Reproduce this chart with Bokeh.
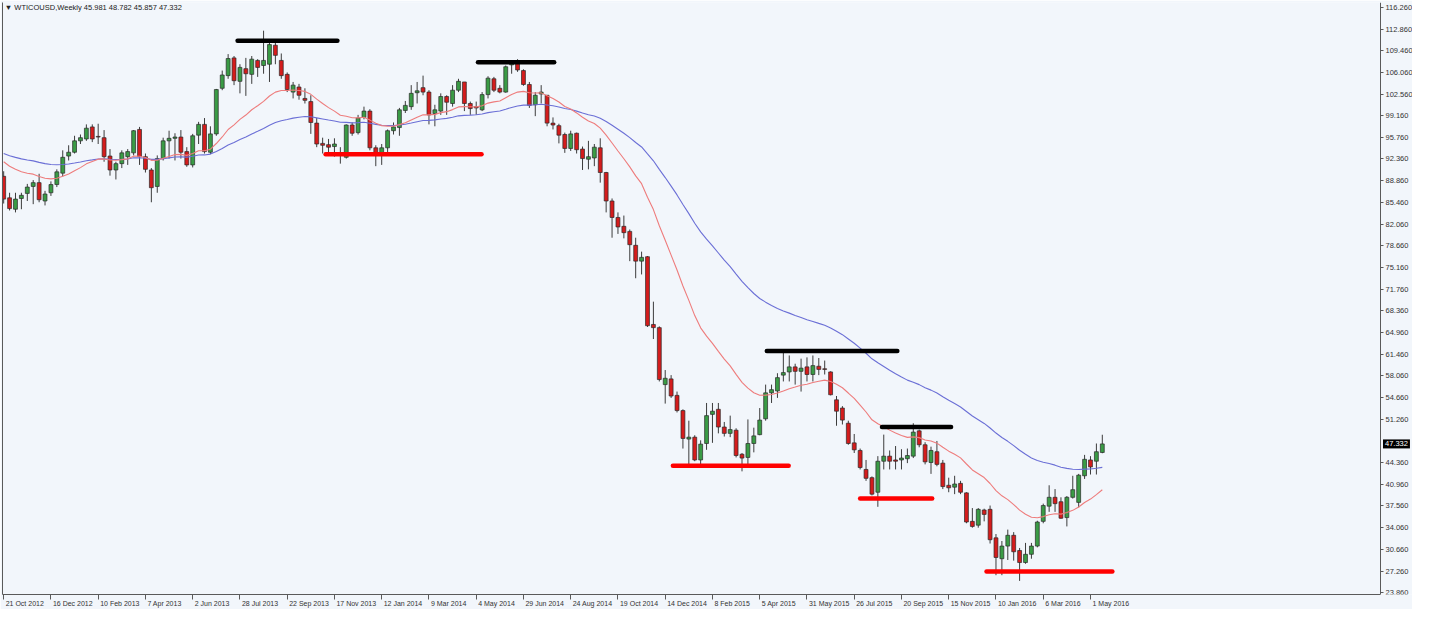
import numpy as np
from bokeh.plotting import figure
from bokeh.models import Range1d, FixedTicker, Label, ColumnDataSource, LinearAxis
from bokeh.embed import file_html
from bokeh.resources import INLINE

symbol = "WTICOUSD,Weekly"

opens = [89.6, 86.2, 84.4, 86.1, 86.9, 88.0, 88.6, 85.7, 87.0, 88.3,
         90.1, 92.8, 93.4, 95.2, 95.5, 97.4, 95.9, 95.7, 92.8, 90.6,
         91.6, 92.7, 93.3, 97.0, 92.7, 90.6, 88.0, 92.4, 95.2, 95.6,
         95.8, 93.5, 91.4, 96.1, 97.8, 93.4, 96.3, 103.5, 105.5, 108.3,
         104.6, 106.6, 105.7, 107.9, 107.1, 107.3, 110.3, 107.9, 105.7, 102.9,
         103.7, 101.9, 101.4, 98.0, 94.8, 94.6, 94.3, 93.3, 92.6, 97.7,
         96.5, 98.9, 99.9, 94.1, 93.2, 94.1, 96.8, 97.3, 100.0, 100.6,
         102.8, 103.6, 102.9, 99.5, 99.9, 102.2, 101.1, 103.2, 104.5, 101.1,
         100.6, 100.1, 102.5, 105.0, 103.5, 102.9, 107.2, 107.7, 106.3, 104.1,
         100.9, 102.6, 102.4, 98.0, 97.6, 96.2, 94.0, 96.4, 93.9, 92.3,
         92.5, 94.1, 90.2, 85.7, 83.1, 81.7, 80.9, 78.7, 76.2, 76.9,
         66.2, 65.7, 56.7, 57.6, 55.0, 52.6, 48.1, 48.4, 44.8, 47.4,
         52.0, 52.8, 50.0, 49.0, 49.5, 45.7, 45.2, 47.4, 48.8, 51.3,
         55.4, 55.7, 58.2, 58.7, 59.5, 58.8, 59.5, 58.3, 59.6, 59.2,
         58.7, 54.3, 53.0, 50.6, 47.5, 46.3, 43.3, 42.0, 39.7, 44.6,
         45.4, 44.8, 44.8, 45.0, 45.4, 49.4, 47.2, 44.4, 46.1, 44.3,
         40.8, 40.5, 41.1, 39.6, 35.1, 34.5, 36.9, 37.0, 32.5, 29.2,
         31.2, 32.9, 30.5, 28.6, 29.9, 31.2, 35.1, 37.5, 38.9, 38.2,
         35.7, 38.9, 38.1, 42.3, 44.8, 44.6, 45.981]
highs = [90.4, 87.0, 87.0, 87.0, 88.4, 89.0, 90.0, 87.3, 88.8, 90.7,
         93.7, 94.5, 96.0, 96.2, 97.8, 97.8, 97.9, 96.9, 93.9, 91.9,
         93.7, 93.9, 96.9, 97.4, 93.2, 90.9, 92.9, 95.7, 96.8, 96.4,
         96.9, 94.2, 96.3, 98.2, 98.8, 97.5, 103.4, 106.3, 108.9, 108.6,
         107.3, 108.3, 108.6, 108.1, 112.6, 110.7, 110.7, 109.0, 106.0, 104.5,
         104.2, 103.5, 102.4, 98.8, 95.7, 95.5, 95.6, 94.2, 97.8, 98.1,
         99.3, 100.6, 100.2, 94.5, 94.7, 97.0, 98.1, 100.4, 101.5, 104.0,
         104.5, 105.5, 103.2, 100.9, 102.7, 102.4, 104.0, 105.0, 104.5, 101.4,
         101.4, 102.9, 105.4, 105.3, 104.0, 107.1, 107.8, 108.1, 106.5, 104.5,
         102.9, 104.0, 102.4, 98.9, 97.9, 96.5, 96.8, 96.5, 94.3, 95.2,
         94.7, 95.6, 90.3, 86.1, 83.9, 83.4, 81.2, 79.9, 77.7, 77.0,
         69.8, 65.9, 59.0, 58.2, 55.6, 52.8, 51.0, 48.7, 47.9, 53.8,
         53.8, 53.8, 50.8, 51.8, 49.8, 45.9, 51.2, 49.9, 53.0, 56.7,
         56.7, 58.5, 61.7, 61.3, 60.0, 60.8, 61.0, 61.3, 60.9, 60.5,
         58.8, 54.9, 53.3, 51.0, 48.9, 46.6, 44.8, 42.2, 45.4, 48.8,
         46.3, 47.0, 46.5, 46.6, 50.6, 49.6, 47.6, 46.9, 47.8, 44.8,
         42.0, 42.3, 41.5, 39.7, 37.2, 37.2, 37.1, 37.6, 33.1, 32.0,
         33.8, 33.4, 30.9, 31.7, 31.7, 35.2, 37.9, 40.8, 40.2, 38.9,
         39.1, 42.3, 42.6, 45.6, 45.4, 47.4, 48.782]
lows = [85.3, 84.2, 83.9, 84.4, 85.7, 85.2, 85.5, 85.0, 86.5, 87.9,
        89.6, 92.1, 93.2, 94.7, 95.2, 95.0, 94.7, 91.9, 89.7, 89.1,
        90.9, 91.4, 92.9, 91.4, 90.2, 85.5, 87.0, 92.1, 92.4, 92.1,
        92.4, 91.1, 91.0, 94.7, 93.2, 93.1, 96.0, 103.2, 105.0, 104.0,
        102.7, 102.3, 104.2, 105.3, 105.8, 104.5, 107.3, 105.0, 102.9, 101.9,
        101.7, 101.1, 96.3, 94.2, 93.2, 93.2, 92.7, 91.6, 92.4, 96.0,
        96.2, 98.6, 93.7, 91.2, 91.4, 93.4, 96.2, 96.0, 99.6, 100.1,
        101.1, 102.4, 97.8, 97.5, 99.3, 99.3, 100.6, 102.9, 99.9, 99.3,
        99.3, 99.9, 101.9, 102.9, 102.7, 102.8, 105.8, 106.1, 103.9, 100.4,
        99.1, 101.1, 97.5, 97.0, 94.8, 93.3, 93.6, 93.2, 90.6, 90.7,
        91.2, 88.6, 83.9, 79.9, 80.5, 79.8, 76.2, 73.5, 74.1, 65.8,
        63.9, 57.2, 53.7, 54.6, 52.3, 46.6, 44.1, 44.6, 43.7, 46.4,
        47.5, 49.0, 48.5, 48.4, 45.2, 43.0, 43.7, 46.0, 48.7, 51.0,
        53.8, 54.6, 57.2, 57.2, 56.7, 55.6, 57.2, 57.2, 58.2, 58.3,
        55.0, 50.2, 50.4, 47.2, 45.9, 43.3, 41.5, 39.2, 37.4, 43.3,
        43.3, 43.3, 43.3, 44.3, 45.1, 46.8, 44.1, 42.6, 43.8, 40.2,
        39.7, 39.4, 39.4, 34.8, 34.1, 34.1, 35.1, 31.6, 26.6, 26.6,
        29.0, 28.9, 25.7, 28.4, 29.2, 31.0, 34.8, 36.6, 36.6, 35.5,
        34.3, 38.7, 37.3, 41.8, 42.5, 42.5, 45.857]
closes = [86.0, 84.5, 86.0, 86.6, 87.9, 88.6, 85.9, 86.8, 88.3, 90.3,
          92.6, 93.4, 95.2, 95.7, 97.2, 95.5, 95.8, 92.7, 90.6, 91.6,
          93.3, 93.5, 96.8, 92.7, 90.7, 87.8, 92.4, 95.2, 95.6, 95.8,
          93.4, 91.4, 96.0, 97.8, 93.5, 96.3, 103.3, 105.6, 108.2, 104.7,
          106.8, 105.8, 108.1, 106.8, 107.9, 110.4, 108.7, 105.5, 103.3, 104.0,
          102.4, 101.6, 98.1, 94.7, 94.5, 94.2, 94.7, 93.0, 97.7, 96.4,
          98.8, 99.9, 94.1, 93.2, 94.1, 96.8, 97.4, 100.1, 100.8, 102.7,
          103.1, 102.9, 99.3, 100.1, 102.2, 101.3, 103.2, 104.6, 101.1, 100.3,
          100.4, 102.5, 105.1, 103.2, 102.9, 106.9, 107.4, 106.4, 104.1, 100.8,
          102.4, 102.9, 98.0, 97.7, 96.1, 94.0, 96.3, 93.8, 92.4, 92.7,
          94.2, 90.2, 85.7, 83.1, 81.6, 80.7, 78.8, 76.2, 76.8, 66.0,
          65.7, 57.5, 57.7, 54.9, 52.6, 48.2, 48.4, 44.8, 47.3, 51.8,
          52.5, 50.0, 49.0, 49.6, 45.5, 45.1, 47.4, 48.6, 51.1, 55.4,
          55.9, 57.8, 58.6, 59.5, 58.8, 59.3, 58.3, 59.7, 59.1, 59.1,
          55.1, 52.5, 51.1, 47.4, 46.4, 43.6, 41.9, 39.4, 44.6, 45.4,
          44.6, 44.6, 45.1, 45.5, 49.2, 47.2, 44.5, 46.3, 44.1, 40.6,
          40.4, 41.0, 39.7, 35.0, 34.3, 37.0, 36.2, 32.2, 29.4, 31.2,
          32.9, 30.3, 28.6, 29.9, 31.2, 35.0, 37.6, 38.9, 37.9, 35.6,
          38.9, 40.1, 42.4, 44.9, 43.7, 46.1, 47.332]

# moving averages (red: 20-period EMA, blue: 50-period EMA), value at first visible bar
ema_fast_period = 20
ema_fast_start = 91.9
ema_slow_period = 50
ema_slow_start = 93.2

x_tick_labels = ["21 Oct 2012", "16 Dec 2012", "10 Feb 2013", "7 Apr 2013", "2 Jun 2013",
                 "28 Jul 2013", "22 Sep 2013", "17 Nov 2013", "12 Jan 2014", "9 Mar 2014",
                 "4 May 2014", "29 Jun 2014", "24 Aug 2014", "19 Oct 2014", "14 Dec 2014",
                 "8 Feb 2015", "5 Apr 2015", "31 May 2015", "26 Jul 2015", "20 Sep 2015",
                 "15 Nov 2015", "10 Jan 2016", "6 Mar 2016", "1 May 2016"]
bars_per_label = 8

y_tick_labels = ["23.860", "27.260", "30.660", "34.060", "37.560", "40.960", "44.360",
                 "51.260", "54.660", "58.060", "61.460", "64.960", "68.360", "71.760",
                 "75.160", "78.660", "82.060", "85.460", "88.860", "92.360", "95.760",
                 "99.160", "102.560", "106.060", "109.460", "112.860", "116.260"]

# hand-drawn horizontal levels (price, first bar, last bar, kind)
level_price = [111.0, 93.1, 107.6, 43.9, 62.0, 38.7, 50.0, 27.2]
level_from = [39.6, 54.5, 80.3, 113.3, 129.2, 145.0, 148.7, 166.4]
level_to = [56.5, 80.9, 93.2, 132.9, 151.3, 157.2, 160.4, 187.7]
level_kind = ["resistance", "support", "resistance", "support",
              "resistance", "support", "resistance", "support"]

# ---------------------------------------------------------------
BG = "#f2f6fb"
UP = "#3a9b45"
DOWN = "#d41c1c"
WICK = "#3c3c3c"
AXC = "#5a5a5a"
FONT = "Liberation Sans"
XFS = 7.0
X0, X1 = -0.2, 233.1          # chart area in bars (X1 = price scale line)
Y0, Y1 = 23.55, 117.05
FW, FH = 1410, 592            # whole frame, price scale included
AXPX = 1378                   # pixel position of the price scale line in the frame
px_per_bar = AXPX / (X1 - X0)
XEND = X1 + (FW - AXPX) / px_per_bar

n = len(closes)
idx = np.arange(n)
o = np.array(opens); h = np.array(highs); l = np.array(lows); c = np.array(closes)


def ema(values, period, start):
    a = 2.0 / (period + 1)
    out = [start]
    for v in values[1:]:
        out.append(out[-1] + a * (v - out[-1]))
    return np.array(out)


fast = ema(c, ema_fast_period, ema_fast_start)
slow = ema(c, ema_slow_period, ema_slow_start)

p = figure(frame_width=FW, frame_height=FH,
           x_range=Range1d(X0, XEND), y_range=Range1d(Y0, Y1),
           y_axis_location=None, output_backend="svg", toolbar_location=None,
           min_border_left=2, min_border_top=2, min_border_right=0, min_border_bottom=0)
p.background_fill_color = BG
p.border_fill_color = BG
p.outline_line_color = None
p.grid.visible = False

# wicks
p.segment(x0=idx, y0=h, x1=idx, y1=l, line_color=WICK, line_width=1)

up = c >= o
src_up = ColumnDataSource(dict(x=idx[up], top=c[up], bottom=o[up]))
src_dn = ColumnDataSource(dict(x=idx[~up], top=o[~up], bottom=c[~up]))
p.vbar(x="x", top="top", bottom="bottom", width=0.66, source=src_up,
       fill_color=UP, line_color="#2a2a2a", line_width=0.7)
p.vbar(x="x", top="top", bottom="bottom", width=0.66, source=src_dn,
       fill_color=DOWN, line_color="#2a2a2a", line_width=0.7)

p.line(idx, slow, line_color="#6b6fd6", line_width=1.1)
p.line(idx, fast, line_color="#ee7c7c", line_width=1.1)

kind_color = {"resistance": "#000000", "support": "#ff0000"}
p.segment(x0=level_from, y0=level_price, x1=level_to, y1=level_price,
          line_color=[kind_color[k] for k in level_kind], line_width=4.5, line_cap="round")

# left border of the chart window
lb = LinearAxis(ticker=FixedTicker(ticks=[]), axis_line_color=AXC,
                major_tick_line_color=None, minor_tick_line_color=None,
                major_label_text_font_size="0px", major_label_standoff=0)
p.add_layout(lb, "left")

# x axis: tick marks at the bars, labels start at the tick (MT4 style)
xa = p.xaxis[0]
xticks = [i * bars_per_label for i in range(len(x_tick_labels))]
xa.ticker = FixedTicker(ticks=xticks)
xa.bounds = (X0, X1)
xa.major_label_overrides = {t: "" for t in xticks}
xa.major_label_text_font_size = "0px"
xa.major_label_standoff = 0
xa.major_tick_out = 5
xa.major_tick_in = 0
xa.minor_tick_out = 0
xa.minor_tick_in = 0
xa.axis_line_color = AXC
xa.major_tick_line_color = AXC

CW = {c_: 0.556 for c_ in "0123456789"}
CW.update({" ": 0.278, "O": 0.778, "c": 0.5, "t": 0.278, "D": 0.722, "e": 0.556,
           "F": 0.611, "b": 0.556, "A": 0.667, "p": 0.556, "r": 0.333, "J": 0.5,
           "u": 0.556, "n": 0.556, "l": 0.222, "S": 0.667, "N": 0.722, "o": 0.556,
           "v": 0.5, "M": 0.833, "a": 0.556, "y": 0.5, "g": 0.556})
label_pos = [t + (sum(CW.get(ch, 0.55) for ch in s) * XFS / 2 + 2) / px_per_bar
             for t, s in zip(xticks, x_tick_labels)]
xl = LinearAxis(ticker=FixedTicker(ticks=label_pos),
                major_label_overrides={t: s for t, s in zip(label_pos, x_tick_labels)},
                major_label_text_font=FONT, major_label_text_font_size=f"{XFS}px",
                major_label_text_color="#333333", major_label_standoff=0,
                axis_line_color=None, major_tick_line_color=None, minor_tick_line_color=None,
                major_tick_out=0, major_tick_in=0)
p.add_layout(xl, "below")

# price scale, drawn at the right edge of the chart area
yticks = [float(s) for s in y_tick_labels]
ya = LinearAxis(ticker=FixedTicker(ticks=yticks), fixed_location=X1,
                major_label_overrides={t: s for t, s in zip(yticks, y_tick_labels)},
                major_label_text_font=FONT, major_label_text_font_size="7.5px",
                major_label_text_color="#333333", major_label_standoff=2,
                major_tick_out=3, major_tick_in=0, minor_tick_out=0, minor_tick_in=0,
                axis_line_color=AXC, major_tick_line_color=AXC)
p.add_layout(ya, "right")

# header
p.add_layout(Label(x=0.2, y=116.9, text="\u25bc " + symbol + "  " + "  ".join(
    f"{v:.3f}" for v in (o[-1], h[-1], l[-1], c[-1])),
    text_font=FONT, text_font_size="7.5px", text_color="#222222",
    text_baseline="top", text_align="left"))

# current price box on the price scale
p.add_layout(Label(x=X1 + 2.5 / px_per_bar, y=c[-1], text=f"{c[-1]:.3f}",
                   text_font=FONT, text_font_size="7.5px", text_color="#ffffff",
                   text_baseline="middle", text_align="left",
                   background_fill_color="#000000", padding=2))

open("out.html", "w").write(file_html(p, INLINE))
